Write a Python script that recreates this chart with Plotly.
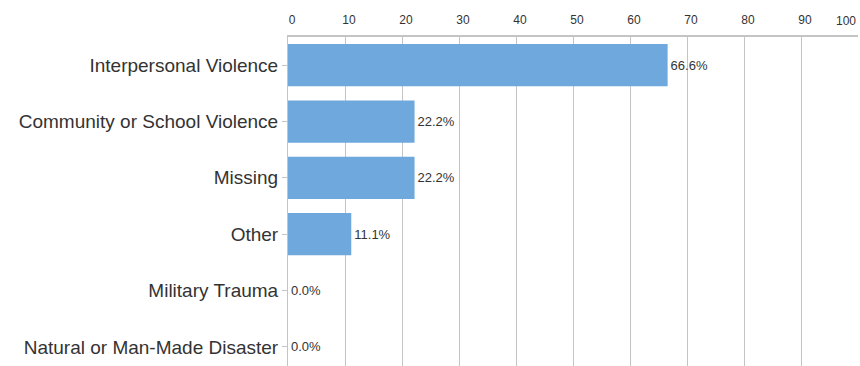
import plotly.graph_objects as go

categories = [
    "Interpersonal Violence",
    "Community or School Violence",
    "Missing",
    "Other",
    "Military Trauma",
    "Natural or Man-Made Disaster",
]
percent = [66.6, 22.2, 22.2, 11.1, 0.0, 0.0]
x_ticks = [0, 10, 20, 30, 40, 50, 60, 70, 80, 90, 100]

FONT = "Liberation Sans, Arial, Helvetica, sans-serif"
TEXT = "#333333"
GRID = "#c4c4c4"

fig = go.Figure(
    go.Bar(
        x=percent,
        y=categories,
        orientation="h",
        width=0.75,
        marker=dict(color="#6fa8dc", line=dict(width=0)),
        text=[f"{v:.1f}%" for v in percent],
        textposition="outside",
        cliponaxis=False,
        textfont=dict(family=FONT, size=13, color=TEXT),
    )
)

fig.update_layout(
    width=860,
    height=366,
    margin=dict(l=288, r=2, t=37, b=0),
    paper_bgcolor="white",
    plot_bgcolor="white",
    showlegend=False,
    font=dict(family=FONT, color=TEXT),
)

# last tick label sits to the left of its gridline so it stays inside the page
tick_text = [str(t) for t in x_ticks[:-1]] + [""]
fig.add_annotation(
    x=x_ticks[-1], xref="x", y=1, yref="paper",
    yshift=7, text=str(x_ticks[-1]), showarrow=False,
    xanchor="right", yanchor="bottom",
    font=dict(family=FONT, size=12, color=TEXT),
)

fig.update_xaxes(
    side="top",
    range=[0, 100],
    tickvals=x_ticks,
    ticktext=tick_text,
    tickfont=dict(size=12, color=TEXT),
    ticklabelshift=4,
    ticklabelstandoff=6,
    showgrid=True,
    gridcolor=GRID,
    gridwidth=1,
    showline=True,
    linecolor=GRID,
    linewidth=2,
    ticks="",
    zeroline=False,
)

fig.update_yaxes(
    categoryorder="array",
    categoryarray=categories,
    range=[5.34, -0.5],
    tickfont=dict(size=19, color=TEXT),
    showline=True,
    linecolor=GRID,
    linewidth=1,
    ticks="outside",
    ticklen=5,
    tickcolor=GRID,
    showgrid=False,
)

fig.write_html("out.html")
